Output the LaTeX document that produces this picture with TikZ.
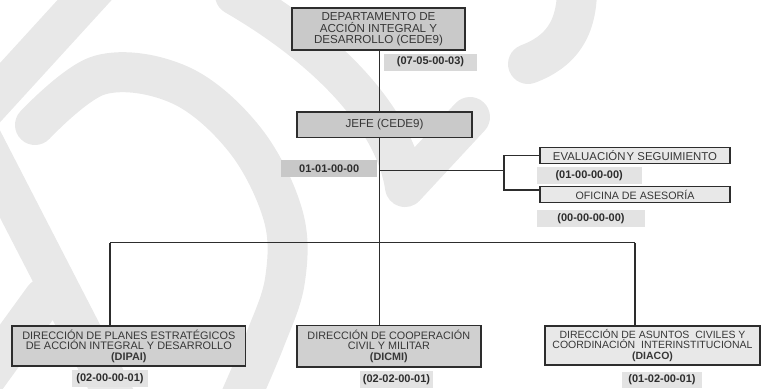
\documentclass[tikz,border=0pt]{standalone}
\usepackage{fontspec}
\setmainfont{Liberation Sans}
\usetikzlibrary{calc}
\definecolor{wm}{RGB}{232,232,232}
\definecolor{ink}{RGB}{45,45,45}
\definecolor{txt}{RGB}{55,55,55}
\definecolor{fillA}{RGB}{201,201,201}
\definecolor{fillB}{RGB}{208,208,208}
\definecolor{fillC}{RGB}{232,232,232}
\definecolor{codeA}{RGB}{216,216,216}
\definecolor{codeB}{RGB}{200,200,200}
\definecolor{codeC}{RGB}{227,227,227}
\begin{document}
\begin{tikzpicture}[x=1pt,y=-1pt,
  wmark/.style={draw=wm, line width=40pt, line cap=round, line join=round},
  unit/.style={draw=ink, line width=1.8pt, inner sep=0pt, align=center, text=txt},
  code/.style={inner sep=0pt, text=ink, font=\fontsize{11}{12}\selectfont\bfseries},
  conn/.style={draw=ink, line width=1.4pt}]
\useasboundingbox (0,0) rectangle (762,388);
% watermark
\begin{scope}[wmark]
  \draw (112,-30) -- (-25,120);
  \draw plot[smooth, tension=0.6] coordinates {(35,125) (100,75) (180,85) (245,140) (283,215) (285,280) (265,340) (235,410)};
  \draw (-33,110) -- (120,407);
  \draw (44,298) -- (-30,400);
  \draw (235,-5) .. controls (330,50) and (395,120) .. (405,187) -- (470,117);
  \draw (577,-15) .. controls (578,30) and (560,52) .. (528,64);
\end{scope}
% units
\node[unit, fill=fillA, minimum width=173pt, minimum height=42pt,
      font=\fontsize{11.6}{11.7}\selectfont] (dep) at (378.5,29.2)
  {DEPARTAMENTO DE\\ACCIÓN INTEGRAL Y\\DESARROLLO (CEDE9)};
\node[code, fill=codeA, minimum width=93pt, minimum height=17pt] (c1) at (430.5,62) {(07-05-00-03)};
\node[unit, fill=fillA, minimum width=174.5pt, minimum height=25.8pt,
      font=\fontsize{11.6}{12}\selectfont] (jefe) at (384.5,124.5) {JEFE (CEDE9)};
\node[code, fill=codeB, minimum width=95.5pt, minimum height=17pt] (c2) at (329.2,168.5) {01-01-00-00};
\node[unit, fill=fillC, minimum width=189.5pt, minimum height=16pt,
      font=\fontsize{11.4}{12}\selectfont] (eval) at (635,155.5) {EVALUACIÓN\hspace{0.1em}Y SEGUIMIENTO};
\node[code, fill=codeC, minimum width=105pt, minimum height=17.5pt] (c3) at (589.2,175.3) {(01-00-00-00)};
\node[unit, fill=fillC, minimum width=189.5pt, minimum height=16pt,
      font=\fontsize{10.7}{12}\selectfont] (ofi) at (635,194.5) {OFICINA DE ASESORÍA};
\node[code, fill=codeC, minimum width=108pt, minimum height=17.5pt] (c4) at (591,218.7) {(00-00-00-00)};
\node[unit, fill=fillB, minimum width=233.5pt, minimum height=40.5pt,
      font=\fontsize{10.9}{10.5}\selectfont] (dipai) at (128.8,346)
  {DIRECCIÓN DE PLANES ESTRATÉGICOS\\DE ACCIÓN INTEGRAL Y DESARROLLO\\\textbf{(DIPAI)}};
\node[code, fill=codeC, minimum width=76pt, minimum height=17pt] (c5) at (110,378.5) {(02-00-00-01)};
\node[unit, fill=fillB, minimum width=184pt, minimum height=41.5pt,
      font=\fontsize{10.8}{10.5}\selectfont] (dicmi) at (388.8,346.2)
  {DIRECCIÓN DE COOPERACIÓN\\CIVIL Y MILITAR\\\textbf{(DICMI)}};
\node[code, fill=codeC, minimum width=73pt, minimum height=17pt] (c6) at (396.5,379.5) {(02-02-00-01)};
\node[unit, fill=fillC, minimum width=215.5pt, minimum height=39.5pt,
      font=\fontsize{10.5}{10.5}\selectfont] (diaco) at (652.5,345.5)
  {DIRECCIÓN DE ASUNTOS\ \ CIVILES Y\\COORDINACIÓN\ \ INTERINSTITUCIONAL\\\textbf{(DIACO)}};
\node[code, fill=codeC, minimum width=80pt, minimum height=16pt] (c7) at (662,380) {(01-02-00-01)};
% connectors
\coordinate (spine) at (379.5,0);
\coordinate (br) at (504,170.5);
\coordinate (bl) at (110,242.6);
\coordinate (brr) at (635,242.6);
\draw[conn] (spine |- dep.south) -- (spine |- jefe.north);
\draw[conn] (spine |- jefe.south) -- (spine |- dicmi.north);
\draw[conn] (spine |- br) -- (br);
\draw[conn] (eval.west) -| (br);
\draw[conn] ($(ofi.west)+(0,-4.5)$) -| (br);
\draw[conn] (bl) -- (brr);
\draw[conn] (bl) -- (bl |- dipai.north);
\draw[conn] (brr) -- (brr |- diaco.north);
\end{tikzpicture}
\end{document}
